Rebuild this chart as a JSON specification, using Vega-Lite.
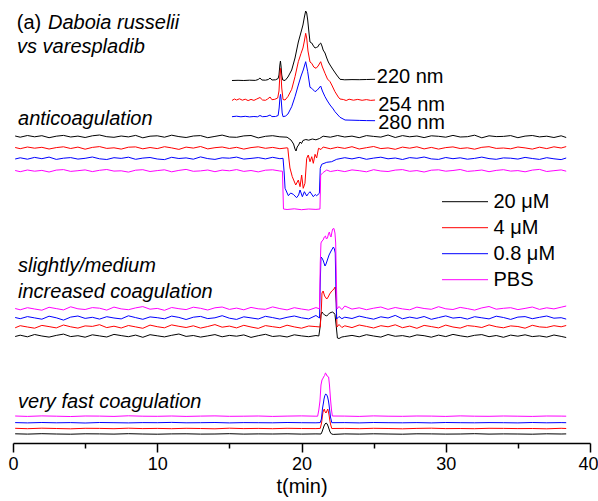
{
  "$schema": "https://vega.github.io/schema/vega-lite/v6.json",
  "width": 577,
  "height": 443,
  "autosize": {"type": "none"},
  "padding": {"left": 13, "top": 0, "right": 8, "bottom": 58},
  "background": "white",
  "config": {"view": {"stroke": null}, "font": "Liberation Sans"},
  "datasets": {
    "anti": [
      {"c":20,"t":0.15,"v":307},{"c":20,"t":0.5,"v":305.8},{"c":20,"t":1,"v":307.5},{"c":20,"t":1.5,"v":306.2},{"c":20,"t":2,"v":307.3},{"c":20,"t":2.5,"v":305.3},{"c":20,"t":3,"v":306.8},{"c":20,"t":3.5,"v":307.6},{"c":20,"t":4,"v":306},{"c":20,"t":4.5,"v":306.9},{"c":20,"t":5,"v":305.5},{"c":20,"t":5.5,"v":307.2},{"c":20,"t":6,"v":308},{"c":20,"t":6.5,"v":306.3},{"c":20,"t":7,"v":305.7},{"c":20,"t":7.5,"v":307},{"c":20,"t":8,"v":306.1},{"c":20,"t":8.5,"v":307.6},{"c":20,"t":9,"v":305.2},{"c":20,"t":9.5,"v":306.8},{"c":20,"t":10,"v":307.2},{"c":20,"t":10.5,"v":305.8},{"c":20,"t":11,"v":307.8},{"c":20,"t":11.5,"v":306.4},{"c":20,"t":12,"v":305.5},{"c":20,"t":12.5,"v":307},{"c":20,"t":13,"v":307.4},{"c":20,"t":13.5,"v":305.3},{"c":20,"t":14,"v":306.6},{"c":20,"t":14.5,"v":307.9},{"c":20,"t":15,"v":306},{"c":20,"t":15.5,"v":305.7},{"c":20,"t":16,"v":307.1},{"c":20,"t":16.5,"v":307.5},{"c":20,"t":17,"v":305.1},{"c":20,"t":17.5,"v":306.7},{"c":20,"t":18,"v":307.3},{"c":20,"t":18.5,"v":306.2},{"c":20,"t":19,"v":305.8},{"c":20,"t":19.27,"v":303},{"c":20,"t":19.45,"v":299},{"c":20,"t":19.55,"v":294},{"c":20,"t":19.62,"v":292},{"c":20,"t":19.7,"v":296},{"c":20,"t":19.8,"v":298},{"c":20,"t":19.9,"v":301},{"c":20,"t":20,"v":299.5},{"c":20,"t":20.1,"v":302.5},{"c":20,"t":20.3,"v":303.5},{"c":20,"t":20.5,"v":302.8},{"c":20,"t":20.75,"v":304},{"c":20,"t":21,"v":303.2},{"c":20,"t":21.25,"v":304.5},{"c":20,"t":21.5,"v":306.8},{"c":20,"t":22,"v":305.8},{"c":20,"t":22.5,"v":307.5},{"c":20,"t":23,"v":306},{"c":20,"t":23.5,"v":306.9},{"c":20,"t":24,"v":305.3},{"c":20,"t":24.5,"v":307.4},{"c":20,"t":25,"v":306.6},{"c":20,"t":25.5,"v":305.9},{"c":20,"t":26,"v":308},{"c":20,"t":26.5,"v":305.5},{"c":20,"t":27,"v":307.4},{"c":20,"t":27.5,"v":306.2},{"c":20,"t":28,"v":307},{"c":20,"t":28.5,"v":305.4},{"c":20,"t":29,"v":307.2},{"c":20,"t":29.5,"v":306.7},{"c":20,"t":30,"v":305.8},{"c":20,"t":30.5,"v":307.6},{"c":20,"t":31,"v":306},{"c":20,"t":31.5,"v":306.3},{"c":20,"t":32,"v":307.8},{"c":20,"t":32.5,"v":305.2},{"c":20,"t":33,"v":307.2},{"c":20,"t":33.5,"v":306.4},{"c":20,"t":34,"v":306.6},{"c":20,"t":34.5,"v":307.4},{"c":20,"t":35,"v":305.3},{"c":20,"t":35.5,"v":306.9},{"c":20,"t":36,"v":307.5},{"c":20,"t":36.5,"v":306.1},{"c":20,"t":37,"v":306.8},{"c":20,"t":37.5,"v":305.5},{"c":20,"t":38,"v":307.2},{"c":20,"t":38.35,"v":305.5},
      {"c":4,"t":0.15,"v":295.5},{"c":4,"t":0.5,"v":294.3},{"c":4,"t":1,"v":296},{"c":4,"t":1.5,"v":294.8},{"c":4,"t":2,"v":295.7},{"c":4,"t":2.5,"v":294},{"c":4,"t":3,"v":295.4},{"c":4,"t":3.5,"v":296.2},{"c":4,"t":4,"v":294.5},{"c":4,"t":4.5,"v":295.9},{"c":4,"t":5,"v":293.8},{"c":4,"t":5.5,"v":295.6},{"c":4,"t":6,"v":296.4},{"c":4,"t":6.5,"v":294.6},{"c":4,"t":7,"v":295.2},{"c":4,"t":7.5,"v":293.9},{"c":4,"t":8,"v":295.8},{"c":4,"t":8.5,"v":296.1},{"c":4,"t":9,"v":294.2},{"c":4,"t":9.5,"v":295.5},{"c":4,"t":10,"v":294.4},{"c":4,"t":10.5,"v":296.3},{"c":4,"t":11,"v":295.1},{"c":4,"t":11.5,"v":293.6},{"c":4,"t":12,"v":295.9},{"c":4,"t":12.5,"v":294.9},{"c":4,"t":13,"v":296.5},{"c":4,"t":13.5,"v":294.1},{"c":4,"t":14,"v":295.3},{"c":4,"t":14.5,"v":296},{"c":4,"t":15,"v":294.5},{"c":4,"t":15.5,"v":295.7},{"c":4,"t":16,"v":293.9},{"c":4,"t":16.5,"v":295.4},{"c":4,"t":17,"v":296.2},{"c":4,"t":17.5,"v":294.7},{"c":4,"t":18,"v":295.6},{"c":4,"t":18.5,"v":294.3},{"c":4,"t":19,"v":295.2},{"c":4,"t":19.05,"v":295},{"c":4,"t":19.12,"v":285},{"c":4,"t":19.2,"v":275},{"c":4,"t":19.36,"v":266.3},{"c":4,"t":19.6,"v":258},{"c":4,"t":19.78,"v":263},{"c":4,"t":19.9,"v":256.3},{"c":4,"t":20.01,"v":268},{"c":4,"t":20.12,"v":254.7},{"c":4,"t":20.24,"v":259.7},{"c":4,"t":20.36,"v":284.7},{"c":4,"t":20.47,"v":288},{"c":4,"t":20.59,"v":281.3},{"c":4,"t":20.71,"v":286.3},{"c":4,"t":20.82,"v":279.7},{"c":4,"t":20.94,"v":288.7},{"c":4,"t":21.05,"v":285},{"c":4,"t":21.18,"v":294.7},{"c":4,"t":21.35,"v":293.5},{"c":4,"t":21.5,"v":296},{"c":4,"t":22,"v":294.2},{"c":4,"t":22.5,"v":295.8},{"c":4,"t":23,"v":294.6},{"c":4,"t":23.5,"v":296.3},{"c":4,"t":24,"v":294},{"c":4,"t":24.5,"v":295.3},{"c":4,"t":25,"v":296.5},{"c":4,"t":25.5,"v":294.4},{"c":4,"t":26,"v":295.1},{"c":4,"t":26.5,"v":293.7},{"c":4,"t":27,"v":295.9},{"c":4,"t":27.5,"v":294.8},{"c":4,"t":28,"v":296.2},{"c":4,"t":28.5,"v":294.1},{"c":4,"t":29,"v":295.6},{"c":4,"t":29.5,"v":293.9},{"c":4,"t":30,"v":295.4},{"c":4,"t":30.5,"v":296.1},{"c":4,"t":31,"v":294.5},{"c":4,"t":31.5,"v":295.2},{"c":4,"t":32,"v":293.8},{"c":4,"t":32.5,"v":295.7},{"c":4,"t":33,"v":296.3},{"c":4,"t":33.5,"v":294.6},{"c":4,"t":34,"v":295},{"c":4,"t":34.5,"v":294.2},{"c":4,"t":35,"v":296},{"c":4,"t":35.5,"v":295.1},{"c":4,"t":36,"v":293.9},{"c":4,"t":36.5,"v":295.8},{"c":4,"t":37,"v":294.4},{"c":4,"t":37.5,"v":296.2},{"c":4,"t":38,"v":295},{"c":4,"t":38.35,"v":296.4},
      {"c":0.8,"t":0.15,"v":284},{"c":0.8,"t":0.5,"v":285.2},{"c":0.8,"t":1,"v":283.8},{"c":0.8,"t":1.5,"v":285.6},{"c":0.8,"t":2,"v":284.3},{"c":0.8,"t":2.5,"v":285.9},{"c":0.8,"t":3,"v":283.6},{"c":0.8,"t":3.5,"v":284.8},{"c":0.8,"t":4,"v":285.4},{"c":0.8,"t":4.5,"v":283.9},{"c":0.8,"t":5,"v":284.7},{"c":0.8,"t":5.5,"v":286},{"c":0.8,"t":6,"v":284.2},{"c":0.8,"t":6.5,"v":283.5},{"c":0.8,"t":7,"v":285.3},{"c":0.8,"t":7.5,"v":284.6},{"c":0.8,"t":8,"v":285.8},{"c":0.8,"t":8.5,"v":283.7},{"c":0.8,"t":9,"v":284.9},{"c":0.8,"t":9.5,"v":285.5},{"c":0.8,"t":10,"v":284},{"c":0.8,"t":10.5,"v":283.4},{"c":0.8,"t":11,"v":285.7},{"c":0.8,"t":11.5,"v":284.5},{"c":0.8,"t":12,"v":285.1},{"c":0.8,"t":12.5,"v":283.8},{"c":0.8,"t":13,"v":286.1},{"c":0.8,"t":13.5,"v":284.4},{"c":0.8,"t":14,"v":283.6},{"c":0.8,"t":14.5,"v":285.2},{"c":0.8,"t":15,"v":284.8},{"c":0.8,"t":15.5,"v":285.9},{"c":0.8,"t":16,"v":283.9},{"c":0.8,"t":16.5,"v":284.6},{"c":0.8,"t":17,"v":285.4},{"c":0.8,"t":17.5,"v":284.1},{"c":0.8,"t":18,"v":285.7},{"c":0.8,"t":18.5,"v":284.3},{"c":0.8,"t":18.72,"v":284.7},{"c":0.8,"t":18.8,"v":270},{"c":0.8,"t":18.86,"v":254.7},{"c":0.8,"t":19.09,"v":247.3},{"c":0.8,"t":19.25,"v":250},{"c":0.8,"t":19.43,"v":248.7},{"c":0.8,"t":19.66,"v":245.3},{"c":0.8,"t":19.8,"v":248},{"c":0.8,"t":19.9,"v":253},{"c":0.8,"t":20.06,"v":246.3},{"c":0.8,"t":20.2,"v":251.3},{"c":0.8,"t":20.36,"v":247},{"c":0.8,"t":20.48,"v":249.5},{"c":0.8,"t":20.59,"v":251.3},{"c":0.8,"t":20.82,"v":246.3},{"c":0.8,"t":20.95,"v":248.5},{"c":0.8,"t":21.05,"v":247.3},{"c":0.8,"t":21.24,"v":249.7},{"c":0.8,"t":21.3,"v":274.7},{"c":0.8,"t":21.4,"v":278.7},{"c":0.8,"t":21.75,"v":280.7},{"c":0.8,"t":22.09,"v":281.3},{"c":0.8,"t":22.44,"v":283.7},{"c":0.8,"t":23,"v":285.3},{"c":0.8,"t":23.5,"v":284.1},{"c":0.8,"t":24,"v":285.6},{"c":0.8,"t":24.5,"v":283.7},{"c":0.8,"t":25,"v":284.9},{"c":0.8,"t":25.5,"v":285.8},{"c":0.8,"t":26,"v":284.2},{"c":0.8,"t":26.5,"v":285},{"c":0.8,"t":27,"v":283.5},{"c":0.8,"t":27.5,"v":285.4},{"c":0.8,"t":28,"v":284.7},{"c":0.8,"t":28.5,"v":286},{"c":0.8,"t":29,"v":284.1},{"c":0.8,"t":29.5,"v":283.6},{"c":0.8,"t":30,"v":285.5},{"c":0.8,"t":30.5,"v":284.3},{"c":0.8,"t":31,"v":285.2},{"c":0.8,"t":31.5,"v":283.8},{"c":0.8,"t":32,"v":284.6},{"c":0.8,"t":32.5,"v":285.9},{"c":0.8,"t":33,"v":284.4},{"c":0.8,"t":33.5,"v":283.7},{"c":0.8,"t":34,"v":285.1},{"c":0.8,"t":34.5,"v":284.8},{"c":0.8,"t":35,"v":283.9},{"c":0.8,"t":35.5,"v":285.6},{"c":0.8,"t":36,"v":284.5},{"c":0.8,"t":36.5,"v":283.6},{"c":0.8,"t":37,"v":285.3},{"c":0.8,"t":37.5,"v":284.2},{"c":0.8,"t":38,"v":283.4},{"c":0.8,"t":38.35,"v":285},
      {"c":0,"t":0.15,"v":272.5},{"c":0,"t":0.5,"v":271.3},{"c":0,"t":1,"v":273},{"c":0,"t":1.5,"v":271.8},{"c":0,"t":2,"v":272.6},{"c":0,"t":2.5,"v":271},{"c":0,"t":3,"v":272.9},{"c":0,"t":3.5,"v":273.4},{"c":0,"t":4,"v":271.6},{"c":0,"t":4.5,"v":272.3},{"c":0,"t":5,"v":273.1},{"c":0,"t":5.5,"v":271.4},{"c":0,"t":6,"v":272.7},{"c":0,"t":6.5,"v":273.5},{"c":0,"t":7,"v":271.9},{"c":0,"t":7.5,"v":272.2},{"c":0,"t":8,"v":270.9},{"c":0,"t":8.5,"v":272.8},{"c":0,"t":9,"v":273.3},{"c":0,"t":9.5,"v":271.5},{"c":0,"t":10,"v":272.4},{"c":0,"t":10.5,"v":273.2},{"c":0,"t":11,"v":271.2},{"c":0,"t":11.5,"v":272.6},{"c":0,"t":12,"v":273.6},{"c":0,"t":12.5,"v":271.7},{"c":0,"t":13,"v":272.1},{"c":0,"t":13.5,"v":273},{"c":0,"t":14,"v":271.3},{"c":0,"t":14.5,"v":272.9},{"c":0,"t":15,"v":272.2},{"c":0,"t":15.5,"v":273.4},{"c":0,"t":16,"v":271.6},{"c":0,"t":16.5,"v":272.5},{"c":0,"t":17,"v":271.1},{"c":0,"t":17.5,"v":272.8},{"c":0,"t":18,"v":273.2},{"c":0,"t":18.5,"v":272},{"c":0,"t":18.68,"v":271.8},{"c":0,"t":18.75,"v":234},{"c":0,"t":19,"v":233.5},{"c":0,"t":19.5,"v":234.2},{"c":0,"t":20,"v":233.3},{"c":0,"t":20.5,"v":234},{"c":0,"t":21,"v":233.6},{"c":0,"t":21.28,"v":234},{"c":0,"t":21.33,"v":268},{"c":0,"t":21.5,"v":270.5},{"c":0,"t":21.75,"v":273},{"c":0,"t":22,"v":271.5},{"c":0,"t":22.5,"v":272.7},{"c":0,"t":23,"v":271.4},{"c":0,"t":23.5,"v":273.1},{"c":0,"t":24,"v":272.3},{"c":0,"t":24.5,"v":271.2},{"c":0,"t":25,"v":273.3},{"c":0,"t":25.5,"v":272},{"c":0,"t":26,"v":271.5},{"c":0,"t":26.5,"v":272.9},{"c":0,"t":27,"v":273.4},{"c":0,"t":27.5,"v":271.7},{"c":0,"t":28,"v":272.4},{"c":0,"t":28.5,"v":271},{"c":0,"t":29,"v":272.8},{"c":0,"t":29.5,"v":273.2},{"c":0,"t":30,"v":271.8},{"c":0,"t":30.5,"v":272.5},{"c":0,"t":31,"v":273.5},{"c":0,"t":31.5,"v":271.6},{"c":0,"t":32,"v":272.2},{"c":0,"t":32.5,"v":273},{"c":0,"t":33,"v":271.3},{"c":0,"t":33.5,"v":272.6},{"c":0,"t":34,"v":273.3},{"c":0,"t":34.5,"v":271.9},{"c":0,"t":35,"v":272.4},{"c":0,"t":35.5,"v":271.2},{"c":0,"t":36,"v":272.9},{"c":0,"t":36.5,"v":273.6},{"c":0,"t":37,"v":271.5},{"c":0,"t":37.5,"v":272.3},{"c":0,"t":38,"v":273.1},{"c":0,"t":38.35,"v":271.8}
    ],
    "incr": [
      {"c":20,"t":0.15,"v":106.5},{"c":20,"t":0.5,"v":107.8},{"c":20,"t":1,"v":106.2},{"c":20,"t":1.5,"v":108.5},{"c":20,"t":2,"v":107},{"c":20,"t":2.5,"v":105.9},{"c":20,"t":3,"v":107.6},{"c":20,"t":3.5,"v":108.9},{"c":20,"t":4,"v":106.4},{"c":20,"t":4.5,"v":107.3},{"c":20,"t":5,"v":105.8},{"c":20,"t":5.5,"v":108.2},{"c":20,"t":6,"v":107.1},{"c":20,"t":6.5,"v":106},{"c":20,"t":7,"v":108.6},{"c":20,"t":7.5,"v":107.4},{"c":20,"t":8,"v":106.3},{"c":20,"t":8.5,"v":107.9},{"c":20,"t":9,"v":105.7},{"c":20,"t":9.5,"v":108.3},{"c":20,"t":10,"v":107.2},{"c":20,"t":10.5,"v":106.1},{"c":20,"t":11,"v":107.7},{"c":20,"t":11.5,"v":109},{"c":20,"t":12,"v":106.6},{"c":20,"t":12.5,"v":107.5},{"c":20,"t":13,"v":105.9},{"c":20,"t":13.5,"v":107.1},{"c":20,"t":14,"v":108.4},{"c":20,"t":14.5,"v":106.2},{"c":20,"t":15,"v":107.6},{"c":20,"t":15.5,"v":106.8},{"c":20,"t":16,"v":108.1},{"c":20,"t":16.5,"v":105.6},{"c":20,"t":17,"v":107.3},{"c":20,"t":17.5,"v":108.7},{"c":20,"t":18,"v":106.5},{"c":20,"t":18.5,"v":107.2},{"c":20,"t":19,"v":106},{"c":20,"t":19.5,"v":108.2},{"c":20,"t":20,"v":107.1},{"c":20,"t":20.5,"v":106.3},{"c":20,"t":21,"v":107.5},{"c":20,"t":21.2,"v":107},{"c":20,"t":21.28,"v":115},{"c":20,"t":21.35,"v":128},{"c":20,"t":21.42,"v":131},{"c":20,"t":21.5,"v":129.5},{"c":20,"t":21.6,"v":128},{"c":20,"t":21.75,"v":127},{"c":20,"t":21.85,"v":128.5},{"c":20,"t":21.95,"v":130},{"c":20,"t":22.05,"v":130.5},{"c":20,"t":22.14,"v":131},{"c":20,"t":22.25,"v":130},{"c":20,"t":22.32,"v":128.5},{"c":20,"t":22.4,"v":118},{"c":20,"t":22.49,"v":105},{"c":20,"t":22.6,"v":104.5},{"c":20,"t":22.8,"v":106},{"c":20,"t":23,"v":106.5},{"c":20,"t":23.5,"v":107.6},{"c":20,"t":24,"v":106.2},{"c":20,"t":24.5,"v":108.3},{"c":20,"t":25,"v":107},{"c":20,"t":25.5,"v":105.9},{"c":20,"t":26,"v":108.5},{"c":20,"t":26.5,"v":106.7},{"c":20,"t":27,"v":107.4},{"c":20,"t":27.5,"v":106},{"c":20,"t":28,"v":108.1},{"c":20,"t":28.5,"v":107.3},{"c":20,"t":29,"v":105.8},{"c":20,"t":29.5,"v":107.9},{"c":20,"t":30,"v":106.4},{"c":20,"t":30.5,"v":108.6},{"c":20,"t":31,"v":107.2},{"c":20,"t":31.5,"v":106.1},{"c":20,"t":32,"v":107.7},{"c":20,"t":32.5,"v":108.4},{"c":20,"t":33,"v":106.3},{"c":20,"t":33.5,"v":107.5},{"c":20,"t":34,"v":105.7},{"c":20,"t":34.5,"v":107.9},{"c":20,"t":35,"v":106.8},{"c":20,"t":35.5,"v":108.2},{"c":20,"t":36,"v":106.4},{"c":20,"t":36.5,"v":107.1},{"c":20,"t":37,"v":105.9},{"c":20,"t":37.5,"v":108},{"c":20,"t":38,"v":106.6},{"c":20,"t":38.35,"v":105.5},
      {"c":4,"t":0.15,"v":115.2},{"c":4,"t":0.5,"v":117.3},{"c":4,"t":1,"v":116},{"c":4,"t":1.5,"v":114.8},{"c":4,"t":2,"v":117.6},{"c":4,"t":2.5,"v":116.4},{"c":4,"t":3,"v":115.1},{"c":4,"t":3.5,"v":118},{"c":4,"t":4,"v":116.2},{"c":4,"t":4.5,"v":114.9},{"c":4,"t":5,"v":117.1},{"c":4,"t":5.5,"v":116.6},{"c":4,"t":6,"v":118.3},{"c":4,"t":6.5,"v":115.4},{"c":4,"t":7,"v":116.8},{"c":4,"t":7.5,"v":115},{"c":4,"t":8,"v":117.5},{"c":4,"t":8.5,"v":116.1},{"c":4,"t":9,"v":114.7},{"c":4,"t":9.5,"v":117.9},{"c":4,"t":10,"v":116.3},{"c":4,"t":10.5,"v":115.2},{"c":4,"t":11,"v":118.1},{"c":4,"t":11.5,"v":116.7},{"c":4,"t":12,"v":115.5},{"c":4,"t":12.5,"v":117.2},{"c":4,"t":13,"v":114.9},{"c":4,"t":13.5,"v":116.5},{"c":4,"t":14,"v":118.4},{"c":4,"t":14.5,"v":115.8},{"c":4,"t":15,"v":116.9},{"c":4,"t":15.5,"v":115.1},{"c":4,"t":16,"v":117.7},{"c":4,"t":16.5,"v":116},{"c":4,"t":17,"v":114.6},{"c":4,"t":17.5,"v":117.4},{"c":4,"t":18,"v":116.3},{"c":4,"t":18.5,"v":115.3},{"c":4,"t":19,"v":117.8},{"c":4,"t":19.5,"v":116.1},{"c":4,"t":20,"v":114.8},{"c":4,"t":20.5,"v":117},{"c":4,"t":21,"v":116.4},{"c":4,"t":21.3,"v":116},{"c":4,"t":21.38,"v":135},{"c":4,"t":21.42,"v":150},{"c":4,"t":21.5,"v":152},{"c":4,"t":21.6,"v":147},{"c":4,"t":21.75,"v":144},{"c":4,"t":21.85,"v":146},{"c":4,"t":21.95,"v":149},{"c":4,"t":22.1,"v":152},{"c":4,"t":22.25,"v":154},{"c":4,"t":22.33,"v":156},{"c":4,"t":22.41,"v":140},{"c":4,"t":22.46,"v":116},{"c":4,"t":22.6,"v":118.5},{"c":4,"t":22.8,"v":115.5},{"c":4,"t":23,"v":117.2},{"c":4,"t":23.5,"v":115.4},{"c":4,"t":24,"v":118},{"c":4,"t":24.5,"v":116.6},{"c":4,"t":25,"v":115},{"c":4,"t":25.5,"v":117.3},{"c":4,"t":26,"v":116.2},{"c":4,"t":26.5,"v":118.2},{"c":4,"t":27,"v":115.3},{"c":4,"t":27.5,"v":116.9},{"c":4,"t":28,"v":114.7},{"c":4,"t":28.5,"v":117.6},{"c":4,"t":29,"v":116.4},{"c":4,"t":29.5,"v":115.1},{"c":4,"t":30,"v":117.9},{"c":4,"t":30.5,"v":116},{"c":4,"t":31,"v":114.9},{"c":4,"t":31.5,"v":117.4},{"c":4,"t":32,"v":116.7},{"c":4,"t":32.5,"v":115.5},{"c":4,"t":33,"v":118.1},{"c":4,"t":33.5,"v":116.3},{"c":4,"t":34,"v":115.2},{"c":4,"t":34.5,"v":117.1},{"c":4,"t":35,"v":116.5},{"c":4,"t":35.5,"v":114.8},{"c":4,"t":36,"v":117.7},{"c":4,"t":36.5,"v":116.1},{"c":4,"t":37,"v":115.6},{"c":4,"t":37.5,"v":117.3},{"c":4,"t":38,"v":116.2},{"c":4,"t":38.35,"v":117.5},
      {"c":0.8,"t":0.15,"v":125.5},{"c":0.8,"t":0.5,"v":124.3},{"c":0.8,"t":1,"v":126.4},{"c":0.8,"t":1.5,"v":125.1},{"c":0.8,"t":2,"v":123.8},{"c":0.8,"t":2.5,"v":126.8},{"c":0.8,"t":3,"v":125.2},{"c":0.8,"t":3.5,"v":122.9},{"c":0.8,"t":4,"v":125.9},{"c":0.8,"t":4.5,"v":127},{"c":0.8,"t":5,"v":124.6},{"c":0.8,"t":5.5,"v":125.7},{"c":0.8,"t":6,"v":123.9},{"c":0.8,"t":6.5,"v":126.3},{"c":0.8,"t":7,"v":125},{"c":0.8,"t":7.5,"v":124.1},{"c":0.8,"t":8,"v":127.2},{"c":0.8,"t":8.5,"v":125.4},{"c":0.8,"t":9,"v":123.7},{"c":0.8,"t":9.5,"v":126.1},{"c":0.8,"t":10,"v":125.3},{"c":0.8,"t":10.5,"v":124.2},{"c":0.8,"t":11,"v":126.9},{"c":0.8,"t":11.5,"v":125.6},{"c":0.8,"t":12,"v":123.5},{"c":0.8,"t":12.5,"v":125.8},{"c":0.8,"t":13,"v":126.6},{"c":0.8,"t":13.5,"v":124.4},{"c":0.8,"t":14,"v":125.2},{"c":0.8,"t":14.5,"v":127.3},{"c":0.8,"t":15,"v":124.8},{"c":0.8,"t":15.5,"v":123.6},{"c":0.8,"t":16,"v":126.2},{"c":0.8,"t":16.5,"v":125.1},{"c":0.8,"t":17,"v":124},{"c":0.8,"t":17.5,"v":126.7},{"c":0.8,"t":18,"v":125.4},{"c":0.8,"t":18.5,"v":123.9},{"c":0.8,"t":19,"v":125.7},{"c":0.8,"t":19.5,"v":127},{"c":0.8,"t":20,"v":125.2},{"c":0.8,"t":20.5,"v":124.1},{"c":0.8,"t":21,"v":127.5},{"c":0.8,"t":21.25,"v":125},{"c":0.8,"t":21.3,"v":160},{"c":0.8,"t":21.35,"v":186},{"c":0.8,"t":21.42,"v":185},{"c":0.8,"t":21.49,"v":183},{"c":0.8,"t":21.56,"v":180},{"c":0.8,"t":21.63,"v":177},{"c":0.8,"t":21.7,"v":179},{"c":0.8,"t":21.77,"v":182},{"c":0.8,"t":21.84,"v":185},{"c":0.8,"t":21.91,"v":188},{"c":0.8,"t":21.98,"v":190},{"c":0.8,"t":22.05,"v":192},{"c":0.8,"t":22.13,"v":194},{"c":0.8,"t":22.21,"v":196},{"c":0.8,"t":22.28,"v":194},{"c":0.8,"t":22.34,"v":190},{"c":0.8,"t":22.39,"v":150},{"c":0.8,"t":22.43,"v":124},{"c":0.8,"t":22.6,"v":126.5},{"c":0.8,"t":22.8,"v":124.3},{"c":0.8,"t":23,"v":125.8},{"c":0.8,"t":23.5,"v":124.5},{"c":0.8,"t":24,"v":126.9},{"c":0.8,"t":24.5,"v":125.3},{"c":0.8,"t":25,"v":123.8},{"c":0.8,"t":25.5,"v":126.2},{"c":0.8,"t":26,"v":125},{"c":0.8,"t":26.5,"v":127.6},{"c":0.8,"t":27,"v":124.2},{"c":0.8,"t":27.5,"v":125.9},{"c":0.8,"t":28,"v":124.6},{"c":0.8,"t":28.5,"v":126.5},{"c":0.8,"t":29,"v":123.7},{"c":0.8,"t":29.5,"v":125.4},{"c":0.8,"t":30,"v":127.1},{"c":0.8,"t":30.5,"v":124.9},{"c":0.8,"t":31,"v":125.6},{"c":0.8,"t":31.5,"v":123.9},{"c":0.8,"t":32,"v":126.3},{"c":0.8,"t":32.5,"v":125.2},{"c":0.8,"t":33,"v":124.1},{"c":0.8,"t":33.5,"v":126.8},{"c":0.8,"t":34,"v":125.5},{"c":0.8,"t":34.5,"v":123.6},{"c":0.8,"t":35,"v":125.9},{"c":0.8,"t":35.5,"v":126.4},{"c":0.8,"t":36,"v":124.3},{"c":0.8,"t":36.5,"v":125.7},{"c":0.8,"t":37,"v":127},{"c":0.8,"t":37.5,"v":124.8},{"c":0.8,"t":38,"v":125.3},{"c":0.8,"t":38.35,"v":123.9},
      {"c":0,"t":0.15,"v":134.5},{"c":0,"t":0.5,"v":133.2},{"c":0,"t":1,"v":135.3},{"c":0,"t":1.5,"v":134},{"c":0,"t":2,"v":132.8},{"c":0,"t":2.5,"v":135.7},{"c":0,"t":3,"v":134.4},{"c":0,"t":3.5,"v":133.1},{"c":0,"t":4,"v":136.2},{"c":0,"t":4.5,"v":134.2},{"c":0,"t":5,"v":133.5},{"c":0,"t":5.5,"v":135.4},{"c":0,"t":6,"v":134.8},{"c":0,"t":6.5,"v":132.9},{"c":0,"t":7,"v":135.9},{"c":0,"t":7.5,"v":134.1},{"c":0,"t":8,"v":133.3},{"c":0,"t":8.5,"v":135.1},{"c":0,"t":9,"v":136.4},{"c":0,"t":9.5,"v":133.8},{"c":0,"t":10,"v":134.6},{"c":0,"t":10.5,"v":132.7},{"c":0,"t":11,"v":135.5},{"c":0,"t":11.5,"v":134.3},{"c":0,"t":12,"v":133.4},{"c":0,"t":12.5,"v":135.8},{"c":0,"t":13,"v":134.7},{"c":0,"t":13.5,"v":133},{"c":0,"t":14,"v":135.2},{"c":0,"t":14.5,"v":136},{"c":0,"t":15,"v":133.6},{"c":0,"t":15.5,"v":134.9},{"c":0,"t":16,"v":133.2},{"c":0,"t":16.5,"v":135.6},{"c":0,"t":17,"v":134.2},{"c":0,"t":17.5,"v":133.7},{"c":0,"t":18,"v":136.1},{"c":0,"t":18.5,"v":134.4},{"c":0,"t":19,"v":133.1},{"c":0,"t":19.5,"v":135.3},{"c":0,"t":20,"v":134},{"c":0,"t":20.5,"v":132.9},{"c":0,"t":21,"v":135.4},{"c":0,"t":21.25,"v":134.2},{"c":0,"t":21.3,"v":180},{"c":0,"t":21.35,"v":200},{"c":0,"t":21.42,"v":202},{"c":0,"t":21.5,"v":203},{"c":0,"t":21.58,"v":206},{"c":0,"t":21.66,"v":207},{"c":0,"t":21.73,"v":204},{"c":0,"t":21.8,"v":205},{"c":0,"t":21.87,"v":209},{"c":0,"t":21.93,"v":211},{"c":0,"t":22,"v":207},{"c":0,"t":22.05,"v":206},{"c":0,"t":22.11,"v":211},{"c":0,"t":22.16,"v":214},{"c":0,"t":22.25,"v":214.5},{"c":0,"t":22.32,"v":210},{"c":0,"t":22.37,"v":200},{"c":0,"t":22.42,"v":160},{"c":0,"t":22.46,"v":134},{"c":0,"t":22.6,"v":136.5},{"c":0,"t":22.8,"v":133.4},{"c":0,"t":23,"v":137},{"c":0,"t":23.5,"v":133.9},{"c":0,"t":24,"v":135.2},{"c":0,"t":24.5,"v":133.3},{"c":0,"t":25,"v":134.8},{"c":0,"t":25.5,"v":136},{"c":0,"t":26,"v":133.6},{"c":0,"t":26.5,"v":135.5},{"c":0,"t":27,"v":134.1},{"c":0,"t":27.5,"v":133.2},{"c":0,"t":28,"v":135.9},{"c":0,"t":28.5,"v":134.5},{"c":0,"t":29,"v":133.7},{"c":0,"t":29.5,"v":136.3},{"c":0,"t":30,"v":134.2},{"c":0,"t":30.5,"v":133.5},{"c":0,"t":31,"v":135.6},{"c":0,"t":31.5,"v":134.4},{"c":0,"t":32,"v":132.9},{"c":0,"t":32.5,"v":135.1},{"c":0,"t":33,"v":136.5},{"c":0,"t":33.5,"v":133.8},{"c":0,"t":34,"v":134.7},{"c":0,"t":34.5,"v":135.3},{"c":0,"t":35,"v":133.4},{"c":0,"t":35.5,"v":134.6},{"c":0,"t":36,"v":136},{"c":0,"t":36.5,"v":133.6},{"c":0,"t":37,"v":135.2},{"c":0,"t":37.5,"v":134.1},{"c":0,"t":38,"v":135.8},{"c":0,"t":38.35,"v":137}
    ],
    "fast": [
      {"c":20,"t":0.15,"v":9.2},{"c":20,"t":1,"v":8.9},{"c":20,"t":2,"v":9.3},{"c":20,"t":3,"v":9},{"c":20,"t":4,"v":8.8},{"c":20,"t":5,"v":9.2},{"c":20,"t":6,"v":9.1},{"c":20,"t":7,"v":8.9},{"c":20,"t":8,"v":9.3},{"c":20,"t":9,"v":9},{"c":20,"t":10,"v":8.8},{"c":20,"t":11,"v":9.1},{"c":20,"t":12,"v":9.2},{"c":20,"t":13,"v":8.9},{"c":20,"t":14,"v":9},{"c":20,"t":15,"v":9.3},{"c":20,"t":16,"v":8.9},{"c":20,"t":17,"v":9.1},{"c":20,"t":18,"v":9},{"c":20,"t":19,"v":9.2},{"c":20,"t":20,"v":8.9},{"c":20,"t":21,"v":9.1},{"c":20,"t":21.35,"v":9},{"c":20,"t":21.42,"v":11},{"c":20,"t":21.56,"v":17},{"c":20,"t":21.63,"v":19},{"c":20,"t":21.7,"v":20},{"c":20,"t":21.77,"v":19.3},{"c":20,"t":21.84,"v":17},{"c":20,"t":21.98,"v":11},{"c":20,"t":22.08,"v":9},{"c":20,"t":22.2,"v":8.6},{"c":20,"t":23,"v":9.1},{"c":20,"t":24,"v":8.9},{"c":20,"t":25,"v":9.2},{"c":20,"t":26,"v":9},{"c":20,"t":27,"v":8.8},{"c":20,"t":28,"v":9.2},{"c":20,"t":29,"v":9.1},{"c":20,"t":30,"v":8.9},{"c":20,"t":31,"v":9},{"c":20,"t":32,"v":9.3},{"c":20,"t":33,"v":8.9},{"c":20,"t":34,"v":9.1},{"c":20,"t":35,"v":9},{"c":20,"t":36,"v":8.8},{"c":20,"t":37,"v":9.2},{"c":20,"t":38,"v":9},{"c":20,"t":38.35,"v":9.1},
      {"c":4,"t":0.15,"v":14.7},{"c":4,"t":1,"v":14.3},{"c":4,"t":2,"v":14.8},{"c":4,"t":3,"v":14.5},{"c":4,"t":4,"v":14.2},{"c":4,"t":5,"v":14.7},{"c":4,"t":6,"v":14.6},{"c":4,"t":7,"v":14.3},{"c":4,"t":8,"v":14.8},{"c":4,"t":9,"v":14.4},{"c":4,"t":10,"v":14.6},{"c":4,"t":11,"v":14.3},{"c":4,"t":12,"v":14.7},{"c":4,"t":13,"v":14.5},{"c":4,"t":14,"v":14.2},{"c":4,"t":15,"v":14.8},{"c":4,"t":16,"v":14.4},{"c":4,"t":17,"v":14.6},{"c":4,"t":18,"v":14.3},{"c":4,"t":19,"v":14.7},{"c":4,"t":20,"v":14.5},{"c":4,"t":21,"v":14.4},{"c":4,"t":21.3,"v":14.6},{"c":4,"t":21.39,"v":20},{"c":4,"t":21.45,"v":27},{"c":4,"t":21.49,"v":31},{"c":4,"t":21.55,"v":33},{"c":4,"t":21.58,"v":34},{"c":4,"t":21.64,"v":31},{"c":4,"t":21.7,"v":30},{"c":4,"t":21.76,"v":32},{"c":4,"t":21.82,"v":34},{"c":4,"t":21.87,"v":31},{"c":4,"t":21.91,"v":28},{"c":4,"t":21.96,"v":23},{"c":4,"t":22.01,"v":19},{"c":4,"t":22.1,"v":14.5},{"c":4,"t":23,"v":14.6},{"c":4,"t":24,"v":14.3},{"c":4,"t":25,"v":14.7},{"c":4,"t":26,"v":14.5},{"c":4,"t":27,"v":14.2},{"c":4,"t":28,"v":14.6},{"c":4,"t":29,"v":14.8},{"c":4,"t":30,"v":14.4},{"c":4,"t":31,"v":14.5},{"c":4,"t":32,"v":14.3},{"c":4,"t":33,"v":14.7},{"c":4,"t":34,"v":14.6},{"c":4,"t":35,"v":14.4},{"c":4,"t":36,"v":14.5},{"c":4,"t":37,"v":14.2},{"c":4,"t":38,"v":14.7},{"c":4,"t":38.35,"v":14.5},
      {"c":0.8,"t":0.15,"v":20.4},{"c":0.8,"t":1,"v":20.1},{"c":0.8,"t":2,"v":20.5},{"c":0.8,"t":3,"v":20.2},{"c":0.8,"t":4,"v":20.4},{"c":0.8,"t":5,"v":20},{"c":0.8,"t":6,"v":20.5},{"c":0.8,"t":7,"v":20.3},{"c":0.8,"t":8,"v":20.1},{"c":0.8,"t":9,"v":20.4},{"c":0.8,"t":10,"v":20.3},{"c":0.8,"t":11,"v":20.6},{"c":0.8,"t":12,"v":20.2},{"c":0.8,"t":13,"v":20.3},{"c":0.8,"t":14,"v":20.5},{"c":0.8,"t":15,"v":20.1},{"c":0.8,"t":16,"v":20.4},{"c":0.8,"t":17,"v":20.3},{"c":0.8,"t":18,"v":20.2},{"c":0.8,"t":19,"v":20.5},{"c":0.8,"t":20,"v":20.3},{"c":0.8,"t":21,"v":20.2},{"c":0.8,"t":21.3,"v":20.4},{"c":0.8,"t":21.38,"v":24},{"c":0.8,"t":21.46,"v":35},{"c":0.8,"t":21.52,"v":40},{"c":0.8,"t":21.56,"v":44},{"c":0.8,"t":21.62,"v":47.5},{"c":0.8,"t":21.68,"v":49},{"c":0.8,"t":21.74,"v":48.5},{"c":0.8,"t":21.81,"v":46},{"c":0.8,"t":21.87,"v":42},{"c":0.8,"t":21.91,"v":38},{"c":0.8,"t":21.96,"v":32},{"c":0.8,"t":22.01,"v":26},{"c":0.8,"t":22.1,"v":20.3},{"c":0.8,"t":23,"v":20.4},{"c":0.8,"t":24,"v":20.1},{"c":0.8,"t":25,"v":20.5},{"c":0.8,"t":26,"v":20.3},{"c":0.8,"t":27,"v":20.2},{"c":0.8,"t":28,"v":20.4},{"c":0.8,"t":29,"v":20.1},{"c":0.8,"t":30,"v":20.5},{"c":0.8,"t":31,"v":20.3},{"c":0.8,"t":32,"v":20.2},{"c":0.8,"t":33,"v":20.4},{"c":0.8,"t":34,"v":20.3},{"c":0.8,"t":35,"v":20.1},{"c":0.8,"t":36,"v":20.5},{"c":0.8,"t":37,"v":20.2},{"c":0.8,"t":38,"v":20.4},{"c":0.8,"t":38.35,"v":20.3},
      {"c":0,"t":0.15,"v":27},{"c":0,"t":1,"v":26.6},{"c":0,"t":2,"v":27.1},{"c":0,"t":3,"v":26.8},{"c":0,"t":4,"v":26.5},{"c":0,"t":5,"v":27},{"c":0,"t":6,"v":26.9},{"c":0,"t":7,"v":26.6},{"c":0,"t":8,"v":27.2},{"c":0,"t":9,"v":26.8},{"c":0,"t":10,"v":26.7},{"c":0,"t":11,"v":27},{"c":0,"t":12,"v":26.6},{"c":0,"t":13,"v":26.9},{"c":0,"t":14,"v":27.1},{"c":0,"t":15,"v":26.7},{"c":0,"t":16,"v":26.8},{"c":0,"t":17,"v":27},{"c":0,"t":18,"v":26.6},{"c":0,"t":19,"v":26.9},{"c":0,"t":20,"v":27.1},{"c":0,"t":21,"v":26.8},{"c":0,"t":21.12,"v":26.8},{"c":0,"t":21.2,"v":33},{"c":0,"t":21.28,"v":42},{"c":0,"t":21.35,"v":58},{"c":0,"t":21.42,"v":63},{"c":0,"t":21.5,"v":65},{"c":0,"t":21.53,"v":66},{"c":0,"t":21.6,"v":67.5},{"c":0,"t":21.66,"v":70},{"c":0,"t":21.7,"v":69.5},{"c":0,"t":21.77,"v":67},{"c":0,"t":21.84,"v":66.5},{"c":0,"t":21.88,"v":66},{"c":0,"t":21.94,"v":58},{"c":0,"t":22.01,"v":44},{"c":0,"t":22.08,"v":33},{"c":0,"t":22.14,"v":27},{"c":0,"t":23,"v":26.9},{"c":0,"t":24,"v":26.6},{"c":0,"t":25,"v":27.1},{"c":0,"t":26,"v":26.8},{"c":0,"t":27,"v":26.7},{"c":0,"t":28,"v":27},{"c":0,"t":29,"v":26.9},{"c":0,"t":30,"v":26.6},{"c":0,"t":31,"v":27.1},{"c":0,"t":32,"v":26.8},{"c":0,"t":33,"v":26.7},{"c":0,"t":34,"v":27},{"c":0,"t":35,"v":26.8},{"c":0,"t":36,"v":26.6},{"c":0,"t":37,"v":27},{"c":0,"t":38,"v":26.9},{"c":0,"t":38.35,"v":26.8}
    ],
    "uv": [
      {"w":220,"t":15.18,"v":362.5},{"w":220,"t":15.6,"v":362.7},{"w":220,"t":16,"v":362.5},{"w":220,"t":16.4,"v":362.8},{"w":220,"t":16.8,"v":362.6},{"w":220,"t":17,"v":363.5},{"w":220,"t":17.12,"v":365},{"w":220,"t":17.25,"v":363},{"w":220,"t":17.5,"v":362.8},{"w":220,"t":17.7,"v":363.5},{"w":220,"t":17.82,"v":365},{"w":220,"t":17.95,"v":363},{"w":220,"t":18.2,"v":363.2},{"w":220,"t":18.38,"v":364.5},{"w":220,"t":18.44,"v":368},{"w":220,"t":18.5,"v":378},{"w":220,"t":18.54,"v":382},{"w":220,"t":18.58,"v":377},{"w":220,"t":18.63,"v":368},{"w":220,"t":18.7,"v":363},{"w":220,"t":18.86,"v":362.5},{"w":220,"t":19.06,"v":366},{"w":220,"t":19.32,"v":373},{"w":220,"t":19.55,"v":385},{"w":220,"t":19.78,"v":401},{"w":220,"t":19.97,"v":411},{"w":220,"t":20.1,"v":418},{"w":220,"t":20.2,"v":426},{"w":220,"t":20.29,"v":432},{"w":220,"t":20.36,"v":430},{"w":220,"t":20.43,"v":423},{"w":220,"t":20.52,"v":410},{"w":220,"t":20.59,"v":401},{"w":220,"t":20.71,"v":400},{"w":220,"t":20.83,"v":397},{"w":220,"t":20.94,"v":395},{"w":220,"t":21.03,"v":395.5},{"w":220,"t":21.12,"v":396},{"w":220,"t":21.25,"v":399},{"w":220,"t":21.33,"v":400},{"w":220,"t":21.42,"v":397},{"w":220,"t":21.5,"v":393},{"w":220,"t":21.63,"v":390},{"w":220,"t":21.75,"v":385},{"w":220,"t":21.86,"v":381},{"w":220,"t":21.98,"v":378},{"w":220,"t":22.2,"v":373},{"w":220,"t":22.44,"v":368},{"w":220,"t":22.67,"v":363.7},{"w":220,"t":23,"v":363.2},{"w":220,"t":23.5,"v":363.4},{"w":220,"t":24,"v":363.3},{"w":220,"t":24.5,"v":363.5},{"w":220,"t":25.1,"v":363.7},
      {"w":254,"t":15.18,"v":342.5},{"w":254,"t":15.35,"v":344},{"w":254,"t":15.5,"v":343},{"w":254,"t":15.7,"v":344.2},{"w":254,"t":15.9,"v":342.8},{"w":254,"t":16.1,"v":343.8},{"w":254,"t":16.3,"v":342.4},{"w":254,"t":16.5,"v":343.6},{"w":254,"t":16.7,"v":342.6},{"w":254,"t":16.9,"v":344},{"w":254,"t":17.12,"v":345.5},{"w":254,"t":17.3,"v":343},{"w":254,"t":17.5,"v":342.7},{"w":254,"t":17.65,"v":344},{"w":254,"t":17.82,"v":346},{"w":254,"t":17.95,"v":343.3},{"w":254,"t":18.15,"v":343.7},{"w":254,"t":18.35,"v":345},{"w":254,"t":18.44,"v":352},{"w":254,"t":18.5,"v":368},{"w":254,"t":18.54,"v":374.7},{"w":254,"t":18.58,"v":368},{"w":254,"t":18.63,"v":355},{"w":254,"t":18.72,"v":343.5},{"w":254,"t":18.86,"v":343},{"w":254,"t":19.06,"v":346.5},{"w":254,"t":19.32,"v":353.7},{"w":254,"t":19.55,"v":366.3},{"w":254,"t":19.78,"v":381.3},{"w":254,"t":19.97,"v":389.7},{"w":254,"t":20.1,"v":395},{"w":254,"t":20.2,"v":402},{"w":254,"t":20.29,"v":409.7},{"w":254,"t":20.36,"v":405},{"w":254,"t":20.45,"v":392},{"w":254,"t":20.59,"v":381},{"w":254,"t":20.71,"v":379.7},{"w":254,"t":20.85,"v":376},{"w":254,"t":21.01,"v":374.7},{"w":254,"t":21.15,"v":377},{"w":254,"t":21.33,"v":381.3},{"w":254,"t":21.45,"v":376},{"w":254,"t":21.63,"v":369.7},{"w":254,"t":21.8,"v":364},{"w":254,"t":21.98,"v":361.3},{"w":254,"t":22.1,"v":358},{"w":254,"t":22.32,"v":351.3},{"w":254,"t":22.55,"v":346},{"w":254,"t":22.67,"v":344},{"w":254,"t":22.9,"v":343.5},{"w":254,"t":23.1,"v":342.5},{"w":254,"t":23.3,"v":343.8},{"w":254,"t":23.6,"v":342.8},{"w":254,"t":23.9,"v":343.6},{"w":254,"t":24.2,"v":342.7},{"w":254,"t":24.5,"v":343.4},{"w":254,"t":24.8,"v":342.6},{"w":254,"t":25.1,"v":343},
      {"w":280,"t":15.18,"v":326.3},{"w":280,"t":15.5,"v":326.8},{"w":280,"t":15.8,"v":326.2},{"w":280,"t":16.1,"v":326.7},{"w":280,"t":16.4,"v":326.1},{"w":280,"t":16.7,"v":326.5},{"w":280,"t":16.95,"v":326.2},{"w":280,"t":17.12,"v":327.5},{"w":280,"t":17.3,"v":326.3},{"w":280,"t":17.6,"v":326.6},{"w":280,"t":17.82,"v":328},{"w":280,"t":17.95,"v":326.4},{"w":280,"t":18.2,"v":326.5},{"w":280,"t":18.38,"v":327.5},{"w":280,"t":18.45,"v":335},{"w":280,"t":18.51,"v":346},{"w":280,"t":18.55,"v":348.7},{"w":280,"t":18.6,"v":342},{"w":280,"t":18.66,"v":330},{"w":280,"t":18.72,"v":326.3},{"w":280,"t":18.9,"v":327},{"w":280,"t":19.06,"v":329},{"w":280,"t":19.32,"v":336.3},{"w":280,"t":19.55,"v":346.3},{"w":280,"t":19.78,"v":358},{"w":280,"t":19.97,"v":367},{"w":280,"t":20.12,"v":373},{"w":280,"t":20.29,"v":381.3},{"w":280,"t":20.43,"v":371.3},{"w":280,"t":20.59,"v":355.7},{"w":280,"t":20.71,"v":354.7},{"w":280,"t":20.94,"v":351.3},{"w":280,"t":21.1,"v":353},{"w":280,"t":21.33,"v":357},{"w":280,"t":21.45,"v":352},{"w":280,"t":21.63,"v":346.3},{"w":280,"t":21.8,"v":342},{"w":280,"t":21.98,"v":338},{"w":280,"t":22.2,"v":334},{"w":280,"t":22.32,"v":331.3},{"w":280,"t":22.67,"v":325.7},{"w":280,"t":23.02,"v":323},{"w":280,"t":23.5,"v":322.8},{"w":280,"t":24,"v":322.6},{"w":280,"t":24.5,"v":322.4},{"w":280,"t":25.1,"v":322.3}
    ],
    "notes": [
      {"t":2.43,"v":414.5,"txt":"Daboia russelii"},
      {"t":0.28,"v":390.5,"txt":"vs varespladib"},
      {"t":0.35,"v":318.5,"txt":"anticoagulation"},
      {"t":0.35,"v":171.5,"txt":"slightly/medium"},
      {"t":0.35,"v":145,"txt":"increased coagulation"},
      {"t":0.35,"v":35,"txt":"very fast coagulation"}
    ],
    "plain": [
      {"t":0.26,"v":414.5,"txt":"(a)"},
      {"t":25.22,"v":360,"txt":"220 nm"},
      {"t":25.32,"v":332.5,"txt":"254 nm"},
      {"t":25.32,"v":314.5,"txt":"280 nm"}
    ]
  },
  "encoding": {
    "x": {
      "field": "t", "type": "quantitative",
      "scale": {"domain": [0, 40], "nice": false, "zero": false},
      "axis": {
        "values": [0, 5, 10, 15, 20, 25, 30, 35, 40],
        "labelExpr": "datum.value % 10 === 0 ? datum.label : ''",
        "title": "t(min)",
        "titleFont": "Liberation Sans", "titleFontSize": 20, "titleFontWeight": "normal", "titleColor": "black", "titlePadding": 3,
        "labelFont": "Liberation Sans", "labelFontSize": 18, "labelColor": "black", "labelPadding": 3,
        "labelOffset": {"condition": {"test": "datum.value === 40", "value": -2}, "value": 0},
        "labelOverlap": false, "labelFlush": false,
        "tickColor": "black", "tickWidth": 1.5,
        "tickSize": {"condition": {"test": "datum.value % 10 !== 0", "value": 5}, "value": 9},
        "domainColor": "black", "domainWidth": 1.5, "grid": false
      }
    },
    "y": {
      "field": "v", "type": "quantitative",
      "scale": {"domain": [0, 443], "nice": false, "zero": false},
      "axis": null
    }
  },
  "layer": [
    {
      "data": {"name": "anti"},
      "mark": {"type": "line", "strokeWidth": 1},
      "encoding": {
        "color": {
          "field": "c", "type": "nominal",
          "scale": {"domain": [20, 4, 0.8, 0], "range": ["#000000", "#ff0000", "#0000ff", "#ff00ff"]},
          "legend": {
            "title": null, "orient": "none", "legendX": 428.5, "legendY": 191.7,
            "symbolType": "stroke", "symbolSize": 2116, "symbolStrokeWidth": 1,
            "clipHeight": 20,
            "labelFont": "Liberation Sans", "labelFontSize": 20, "labelColor": "black",
            "labelOffset": 5, "rowPadding": 6, "padding": 0,
            "labelExpr": "datum.value == 0 ? 'PBS' : datum.label + ' μM'"
          }
        }
      }
    },
    {
      "data": {"name": "incr"},
      "mark": {"type": "line", "strokeWidth": 1},
      "encoding": {
        "color": {
          "field": "c", "type": "nominal",
          "scale": {"domain": [20, 4, 0.8, 0], "range": ["#000000", "#ff0000", "#0000ff", "#ff00ff"]}
        }
      }
    },
    {
      "data": {"name": "fast"},
      "mark": {"type": "line", "strokeWidth": 1},
      "encoding": {
        "color": {
          "field": "c", "type": "nominal",
          "scale": {"domain": [20, 4, 0.8, 0], "range": ["#000000", "#ff0000", "#0000ff", "#ff00ff"]}
        }
      }
    },
    {
      "data": {"name": "uv"},
      "mark": {"type": "line", "strokeWidth": 1},
      "encoding": {
        "stroke": {
          "field": "w", "type": "nominal",
          "scale": {"domain": [220, 254, 280], "range": ["#000000", "#ff0000", "#0000ff"]},
          "legend": null
        }
      }
    },
    {
      "data": {"name": "notes"},
      "mark": {"type": "text", "align": "left", "baseline": "alphabetic", "font": "Liberation Sans", "fontSize": 20, "fontStyle": "italic", "color": "black"},
      "encoding": {"text": {"field": "txt"}}
    },
    {
      "data": {"name": "plain"},
      "mark": {"type": "text", "align": "left", "baseline": "alphabetic", "font": "Liberation Sans", "fontSize": 20, "color": "black"},
      "encoding": {"text": {"field": "txt"}}
    }
  ]
}
